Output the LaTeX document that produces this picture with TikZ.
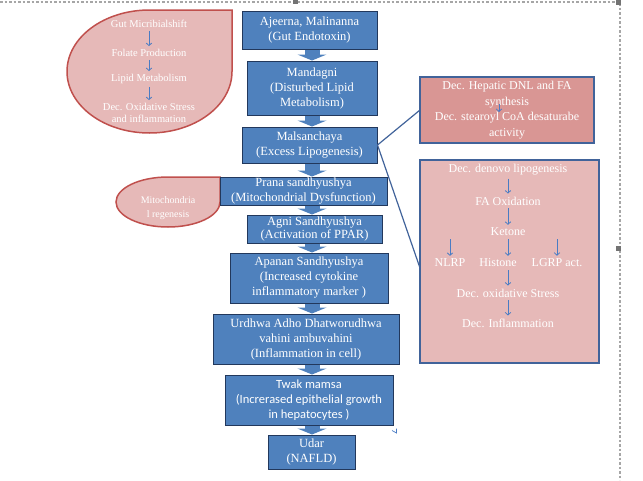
\documentclass[tikz,border=0pt]{standalone}
\usepackage{fontspec}
\setmainfont{Liberation Serif}
\newfontfamily\calibrifont{Carlito}
\usepackage{xcolor}
\usepackage{tikz}
\usetikzlibrary{arrows.meta, positioning}

\definecolor{boxblue}{HTML}{4F81BD}
\definecolor{boxedge}{HTML}{22385C}
\definecolor{lightpink}{HTML}{E6B9B8}
\definecolor{darkpink}{HTML}{D99694}
\definecolor{dropred}{HTML}{C0504D}
\definecolor{steel}{HTML}{41639A}
\definecolor{smallarr}{HTML}{4A7CC4}

\begin{document}
\begin{tikzpicture}[
  x=1pt,
  y=-1pt,
  box/.style={
    draw=boxedge,
    line width=1pt,
    fill=boxblue,
    text=white,
    align=center,
    inner sep=0pt,
    font=\fontsize{12.5}{15}\selectfont
  },
  bigarr/.style={
    -{Triangle[length=6pt,width=29pt]},
    line width=15pt,
    boxblue
  },
  drop/.style={
    draw=dropred,
    line width=1.5pt,
    fill=lightpink
  },
  side/.style={
    draw=steel,
    line width=1.5pt,
    inner sep=0pt,
    text=white,
    align=center
  },
  txt/.style={
    text=white,
    inner sep=1pt,
    align=center
  },
  arr/.style={
    -{Straight Barb[length=2.5pt,width=5.5pt]},
    draw=smallarr,
    line width=0.8pt,
    shorten <=2pt,
    shorten >=2pt
  },
  link/.style={
    steel,
    line width=1.2pt
  },
  frame/.style={
    gray!70,
    line width=1.2pt,
    dash pattern=on 2.5pt off 2pt
  },
  handle/.style={
    fill=gray!90!black,
    draw=none
  }
]

\useasboundingbox (0,0) rectangle (643,480);

% Selection frame
\draw [frame] (0,2) -- (620,2) -- (620,480);
\fill [handle] (616,0) rectangle (621,5);
\fill [handle] (293,0) rectangle (298,4);
\fill [handle] (616,246) rectangle (621,251);

% Drops
\draw [drop] (150,10) -- (232,10) -- (232,71.5)
  arc [start angle=0, end angle=270, x radius=82.5, y radius=61.5] -- cycle;
\draw [drop] (168,177) -- (220,177) -- (220,202)
  arc [start angle=0, end angle=270, x radius=52, y radius=25] -- cycle;

% Texts in the drops
\begin{scope}[font=\fontsize{10.5}{12}\selectfont]
\node [txt] (gut) at (149,24) {Gut Micribialshift};
\node [txt] (folate) at (149,53) {Folate Production};
\node [txt] (lipid) at (149,79) {Lipid Metabolism};
\node [txt] (oxi) at (149,113) {Dec. Oxidative Stress\\and inflammation};
\end{scope}
\draw [arr] (gut) -- (folate);
\draw [arr] (folate) -- (lipid);
\draw [arr] (lipid) -- (oxi);
\node [txt, font=\fontsize{10}{14}\selectfont] (mito) at (168,208) {Mitochondria\\l regenesis};

% Boxes
\node [box, minimum width=135pt, minimum height=38pt] (ajeerna) at (309.5,30) {Ajeerna, Malinanna\\(Gut Endotoxin)};
\node [box, minimum width=130pt, minimum height=54pt] (mandagni) at (312,88) {Mandagni\\(Disturbed Lipid\\Metabolism)};
\node [box, minimum width=135pt, minimum height=36pt] (malsan) at (309.5,145) {Malsanchaya\\(Excess Lipogenesis)};
\node [box, minimum width=167pt, minimum height=28pt] (prana) at (303.5,191) {Prana sandhyushya\\(Mitochondrial Dysfunction)};
\node [box, minimum width=135pt, minimum height=28pt, font=\fontsize{12.5}{13}\selectfont] (agni) at (314.5,229) {Agni Sandhyushya\\(Activation of PPAR)};
\node [box, minimum width=158pt, minimum height=50pt] (apanan) at (309,278) {Apanan Sandhyushya\\(Increased cytokine\\inflammatory marker )};
\node [box, minimum width=186pt, minimum height=50pt] (urdhwa) at (306,339) {Urdhwa Adho Dhatworudhwa\\vahini ambuvahini\\(Inflammation in cell)};
\node [box, minimum width=168pt, minimum height=50pt, font=\calibrifont\fontsize{12.5}{15}\selectfont] (twak) at (309,400) {Twak mamsa\\(Increrased epithelial growth\\in hepatocytes )};
\node [box, minimum width=87pt, minimum height=34pt] (udar) at (311.5,452) {Udar\\(NAFLD)};

% Block arrows
\coordinate (ax) at (312,0);
\draw [bigarr] (ajeerna.south -| ax) -- (mandagni.north -| ax);
\draw [bigarr] (mandagni.south -| ax) -- (malsan.north -| ax);
\draw [bigarr] (malsan.south -| ax) -- (prana.north -| ax);
\draw [bigarr] (prana.south -| ax) -- (agni.north -| ax);
\draw [bigarr] (agni.south -| ax) -- (apanan.north -| ax);
\draw [bigarr] (apanan.south -| ax) -- (urdhwa.north -| ax);
\draw [bigarr] (urdhwa.south -| ax) -- (twak.north -| ax);
\draw [bigarr] (twak.south -| ax) -- (udar.north -| ax);
\draw [smallarr, line width=0.7pt] (392,430.5) -- (396.5,433) -- (396.5,428.5);

% Side boxes
\draw [link] (malsan.east) -- (420,110);
\draw [link] (malsan.east) -- (420,268);
\node [side, fill=darkpink, minimum width=174pt, minimum height=66pt, font=\fontsize{12}{15.7}\selectfont] (hepatic) at (507,110)
  {Dec. Hepatic DNL and FA\\synthesis\\Dec. stearoyl CoA desaturabe\\activity};
\draw [-{Straight Barb[length=2.5pt,width=5.5pt]}, draw=smallarr, line width=0.8pt] ([shift={(-8,-6)}]hepatic.center) -- ([shift={(-8,2)}]hepatic.center);
\node [side, fill=lightpink, minimum width=179pt, minimum height=203pt] (denovo) at (509.5,261.5) {};

% Texts in the side box
\begin{scope}[font=\fontsize{12}{14}\selectfont]
\node [txt] (dnl) at (508,170) {Dec. denovo lipogenesis};
\node [txt] (faox) at (508,201) {FA Oxidation};
\node [txt] (ketone) at (508,232) {Ketone};
\node [txt] (nlrp) at (450,263) {NLRP};
\node [txt] (histone) at (498,263) {Histone};
\node [txt] (lgrp) at (557,263) {LGRP act.};
\node [txt] (oxstress) at (508,293) {Dec. oxidative Stress};
\node [txt] (inflam) at (508,323) {Dec. Inflammation};
\end{scope}
\draw [arr] (dnl) -- (faox);
\draw [arr] (faox) -- (ketone);
\draw [arr] (ketone.south -| nlrp) -- (nlrp.north);
\draw [arr] (ketone) -- (ketone |- histone.north);
\draw [arr] (ketone.south -| lgrp) -- (lgrp.north);
\draw [arr] (histone.south -| ketone) -- (oxstress);
\draw [arr] (oxstress) -- (inflam);

\end{tikzpicture}
\end{document}
